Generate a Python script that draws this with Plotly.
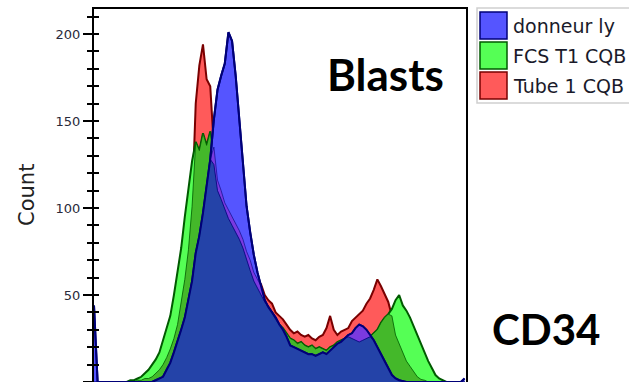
import numpy as np
import plotly.graph_objects as go

# ---------------- data (channel, counts) ----------------
channels = list(range(0, 1030, 10))

series_names = ["donneur ly", "FCS T1 CQB", "Tube 1 CQB"]

blue_counts = [44, 0, 0, 0, 0, 0, 0, 0, 0, 0,
               0, 0, 0, 0, 0, 0, 0, 1, 2, 3,
               7, 11, 17, 23, 30, 37, 47, 58, 74, 84,
               97, 112, 128, 151, 168, 176, 183, 201, 196, 176,
               150, 124, 101, 86, 73, 63, 55, 47, 43, 40,
               37, 33, 30, 26, 21, 20, 19, 18, 17, 16,
               16, 15, 16, 17, 16, 18, 20, 22, 23, 25,
               27, 28, 31, 33, 32, 30, 27, 24, 20, 16,
               12, 8, 4, 2, 1, 0.5, 0, 0, 0, 0,
               0, 0, 0, 0, 0, 0, 0, 0, 0, 0,
               0, 0, 2]

green_counts = [0, 0, 0, 0, 0, 0, 0, 0, 0, 0,
                1, 1, 2, 3, 5, 7, 10, 13, 17, 24,
                32, 38, 50, 64, 77, 95, 112, 127, 138, 133,
                143, 136, 144, 125, 110, 105, 99, 94, 90, 86,
                82, 77, 70, 64, 58, 54, 50, 46, 43, 40,
                36, 33, 31, 28, 25, 24, 22, 23, 21, 20,
                21, 19, 20, 19, 18, 20, 21, 23, 24, 25,
                26, 25, 24, 23, 24, 25, 26, 28, 30, 34,
                37, 39, 42, 47, 50, 44, 41, 37, 32, 27,
                21, 17, 12, 8, 4, 2, 1, 0, 0, 0,
                0, 0, 0]

red_counts = [0, 0, 0, 0, 0, 0, 0, 0, 0, 0,
              0, 0, 1, 1, 2, 2, 3, 5, 7, 10,
              14, 19, 25, 33, 45, 59, 76, 101, 160, 182,
              194, 174, 170, 135, 116, 110, 103, 99, 95, 91,
              87, 82, 75, 70, 63, 59, 56, 50, 47, 45,
              40, 38, 36, 33, 30, 28, 29, 27, 26, 27,
              25, 24, 26, 27, 31, 38, 30, 27, 29, 30,
              31, 35, 37, 39, 41, 45, 48, 53, 59, 55,
              50, 46, 38, 27, 22, 17, 12, 9, 6, 3,
              1.5, 1, 0, 0, 0, 0, 0, 0, 0, 0,
              0, 0, 0]

y_ticks = [0, 50, 100, 150, 200]

# ---------------- styles ----------------
RED_FILL, RED_LINE = "#ff5a5a", "#7a0000"
GREEN_FILL, GREEN_LINE = "#55ff55", "#005a00"
BLUE_FILL, BLUE_LINE = "#5555ff", "#000078"
GR_FILL = "#44b82a"
BR_FILL = "#7a3ae0"
ALL_FILL = "#2443a8"

W, H = 629, 382
L, R, T, B = 94, 466, 9, 382


def px(x):
    return (x - L) / (R - L)


def py(y):
    return (B - y) / (B - T)


x = np.array(channels, dtype=float)
b = np.array(blue_counts, dtype=float)
g = np.array(green_counts, dtype=float)
r = np.array(red_counts, dtype=float)

fig = go.Figure()


def area(yv, fill, line_color, lw):
    fig.add_trace(go.Scatter(
        x=x, y=yv, mode="lines", fill="tozeroy", fillcolor=fill,
        line=dict(color=line_color, width=lw), hoverinfo="skip",
        showlegend=False))


area(r, RED_FILL, RED_LINE, 2)
area(g, GREEN_FILL, GREEN_LINE, 2)
area(np.minimum(g, r), GR_FILL, GREEN_LINE, 0.8)
area(b, BLUE_FILL, BLUE_LINE, 2)
area(np.minimum(b, r), BR_FILL, BLUE_LINE, 0.6)
area(np.minimum(b, g), ALL_FILL, BLUE_LINE, 0.8)
fig.add_trace(go.Scatter(x=x, y=b, mode="lines",
                         line=dict(color=BLUE_LINE, width=2),
                         hoverinfo="skip", showlegend=False))
# anchor trace for the inside-tick axis
fig.add_trace(go.Scatter(x=[x[0]], y=[0], yaxis="y2", mode="markers",
                         marker=dict(opacity=0), hoverinfo="skip",
                         showlegend=False))

YMAX = 50 * (B - T) / 87.0

fig.update_layout(
    width=W, height=H,
    margin=dict(l=L, r=W - R, t=T, b=H - B, pad=0),
    paper_bgcolor="white", plot_bgcolor="white",
    xaxis=dict(range=[0, 1024], showgrid=False, zeroline=False,
               showline=True, linecolor="black", linewidth=1.5, mirror=True,
               showticklabels=False, ticks=""),
    yaxis=dict(range=[0, YMAX], showgrid=False, zeroline=False,
               showline=True, linecolor="black", linewidth=2, mirror=True,
               tickvals=y_ticks, ticks="outside", ticklen=9, tickwidth=1.5,
               tickcolor="black",
               minor=dict(dtick=10, tick0=0, ticks="outside", ticklen=5,
                          tickwidth=1.5, tickcolor="black"),
               tickfont=dict(family="DejaVu Sans", size=13, color="#2a2a3a")),
    yaxis2=dict(range=[0, YMAX], overlaying="y", side="left", anchor="x",
                showgrid=False, zeroline=False, showline=False,
                tickvals=y_ticks, ticks="inside", ticklen=5, tickwidth=1.5,
                tickcolor="black", showticklabels=False,
                minor=dict(dtick=10, tick0=0, ticks="inside", ticklen=5,
                           tickwidth=1.5, tickcolor="black")),
)

# y-axis title
fig.add_annotation(text="Count", x=px(27), y=py(195), xref="paper", yref="paper",
                   textangle=-90, showarrow=False, xanchor="center", yanchor="middle",
                   font=dict(family="DejaVu Sans", size=21, color="#222222"))

# big labels
fig.add_annotation(text="<b>Blasts</b>", x=px(385.5), y=py(74), xref="paper", yref="paper",
                   showarrow=False, xanchor="center", yanchor="middle",
                   font=dict(family="Lato", size=44, color="black"))
fig.add_annotation(text="<b>CD34</b>", x=px(546), y=py(329), xref="paper", yref="paper",
                   showarrow=False, xanchor="center", yanchor="middle",
                   font=dict(family="Lato", size=42, color="black"))

# legend box
fig.add_shape(type="rect", xref="paper", yref="paper",
              x0=px(477), x1=px(660), y0=py(103), y1=py(8),
              line=dict(color="#cfcfcf", width=1.5), fillcolor="white", layer="above")
sw_fill = [BLUE_FILL, GREEN_FILL, RED_FILL]
sw_line = [BLUE_LINE, GREEN_LINE, RED_LINE]
for i, name in enumerate(series_names):
    top = 12 + 30 * i
    fig.add_shape(type="rect", xref="paper", yref="paper",
                  x0=px(480), x1=px(507), y0=py(top + 27), y1=py(top),
                  line=dict(color=sw_line[i], width=1.5), fillcolor=sw_fill[i],
                  layer="above")
    fig.add_annotation(text=name, x=px(511), y=py(top + 14), xref="paper", yref="paper",
                       showarrow=False, xanchor="left", yanchor="middle",
                       font=dict(family="DejaVu Sans", size=19, color="#1a1a2a"))

fig.write_html("out.html")
